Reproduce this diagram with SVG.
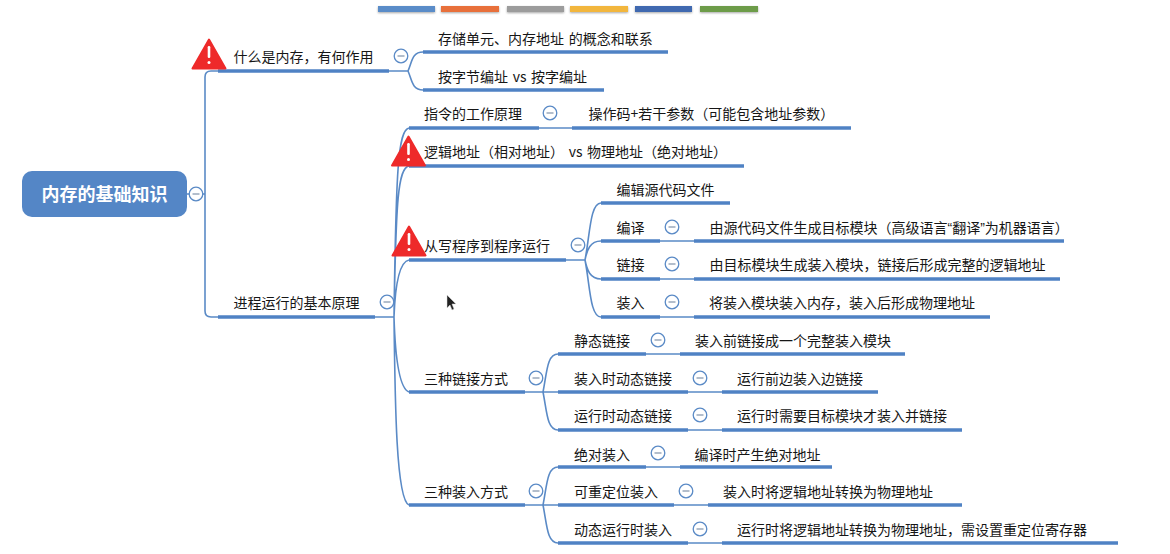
<svg xmlns="http://www.w3.org/2000/svg" width="1170" height="554" viewBox="0 0 1170 554">
<style>
text{font-family:"Noto Sans CJK SC","Liberation Sans",sans-serif;font-size:14px;fill:#161616;word-spacing:1.5px}
.root{font-size:18px;font-weight:700;fill:#fff;text-anchor:middle}
.q{font-family:"Liberation Sans",sans-serif}
.u{stroke:#4f82c4;stroke-width:3.6;fill:none}
.c{stroke:#5a8ac6;stroke-width:1.6;fill:none}
.t circle{fill:#fff;stroke:#5a8ac6;stroke-width:1.3}
.t path{stroke:#8a9bb0;stroke-width:1.3;fill:none}
.tri{fill:#ee2a2a;stroke:#ee2a2a;stroke-width:2;stroke-linejoin:round}
.bang{fill:#fff}
</style>
<defs>
<g id="toggle" class="t"><circle r="6.8"/><path d="M-3.5 0H3.5"/></g>
<g id="warn"><path class="tri" d="M0-14.500L16.500 14.500H-16.500Z"/><rect class="bang" x="-1.300" y="-8" width="2.600" height="12" rx="1.200"/><circle class="bang" cx="0" cy="8.500" r="1.500"/></g>
<filter id="sh" x="-10%" y="-50%" width="120%" height="250%"><feDropShadow dx="0" dy="1" stdDeviation="1.200" flood-color="#000" flood-opacity=".35"/></filter>
</defs>
<rect width="1170" height="554" fill="#fff"/>
<g id="palette" filter="url(#sh)">
<rect x="378" y="6" width="57" height="6" fill="#5a8cc8"/>
<rect x="441" y="6" width="58" height="6" fill="#e8703a"/>
<rect x="507" y="6" width="57" height="6" fill="#9c9c9c"/>
<rect x="570" y="6" width="58" height="6" fill="#f2b63c"/>
<rect x="635" y="6" width="57" height="6" fill="#3f69b0"/>
<rect x="700" y="6" width="58" height="6" fill="#6d9c4a"/>
</g>
<g id="connectors" class="c">
<path class="c" d="M187 194H205M218 71H211Q205 71 205 77V311Q205 317 211 317H218"/>
<path class="c" d="M389 71H408M423 52C412 52 412 62 408 71C412 80 412 90 423 90"/>
<path class="c" d="M375 317H394M409 128C398 130 396 170 394 317M409 166C398 168 396 200 394 317M409 260C398 262 395 290 394 317M409 392C398 388 395 350 394 317M409 505C396 500 395 400 394 317"/>
<path class="c" d="M539 128H572"/>
<path class="c" d="M566 260H585M601 203C590 203 590 235 585 260M601 241C590 241 587 250 585 260M601 279C590 279 587 270 585 260M601 317C590 317 590 285 585 260"/>
<path class="c" d="M660 241H694M660 279H694M660 317H694"/>
<path class="c" d="M525 392H543M558 354C547 354 547 372 543 392M558 430C547 430 547 412 543 392M543 392H558"/>
<path class="c" d="M646 354H680M688 392H722M688 430H722"/>
<path class="c" d="M525 505H543M558 467C547 467 547 485 543 505M558 543C547 543 547 525 543 505M543 505H558"/>
<path class="c" d="M646 467H680M674 505H708M688 543H722"/>
</g>
<g id="root"><rect x="22" y="171" width="165" height="46" rx="10" fill="#5486c6"/><text class="root" x="104.500" y="201">内存的基础知识</text><use href="#toggle" x="196" y="194"/></g>
<g id="n1"><path class="u" d="M218 71H389"/><text x="233.500" y="62">什么是内存，有何作用</text><use href="#warn" x="209" y="54"/><use href="#toggle" x="401" y="56"/></g>
<g id="n1a"><path class="u" d="M423 52H668"/><text x="438" y="44">存储单元、内存地址 的概念和联系</text></g>
<g id="n1b"><path class="u" d="M423 90H604"/><text x="438" y="82">按字节编址 vs 按字编址</text></g>
<g id="n2"><path class="u" d="M218 317H375"/><text x="233.500" y="308">进程运行的基本原理</text><use href="#toggle" x="387" y="302"/></g>
<g id="n3"><path class="u" d="M409 128H539"/><text x="424" y="119">指令的工作原理</text><use href="#toggle" x="550" y="113"/></g>
<g id="n3a"><path class="u" d="M572 128H851"/><text x="588.500" y="119">操作码+若干参数（可能包含地址参数）</text></g>
<g id="n4"><path class="u" d="M409 166H744"/><text x="424" y="157">逻辑地址（相对地址） vs 物理地址（绝对地址）</text><use href="#warn" x="408.500" y="151"/></g>
<g id="n5"><path class="u" d="M409 260H566"/><text x="424" y="251">从写程序到程序运行</text><use href="#warn" x="409" y="241"/><use href="#toggle" x="578" y="245"/></g>
<g id="n5a"><path class="u" d="M601 203H730"/><text x="616.500" y="195">编辑源代码文件</text></g>
<g id="n5b"><path class="u" d="M601 241H660"/><text x="616.500" y="233">编译</text><use href="#toggle" x="672" y="227"/></g>
<g id="n5b1"><path class="u" d="M694 241H1064"/><text x="709.500" y="233">由源代码文件生成目标模块（高级语言<tspan class="q">“</tspan>翻译<tspan class="q">”</tspan>为机器语言）</text></g>
<g id="n5c"><path class="u" d="M601 279H660"/><text x="616.500" y="270">链接</text><use href="#toggle" x="672" y="264"/></g>
<g id="n5c1"><path class="u" d="M694 279H1060"/><text x="709.500" y="270">由目标模块生成装入模块，链接后形成完整的逻辑地址</text></g>
<g id="n5d"><path class="u" d="M601 317H660"/><text x="616.500" y="308">装入</text><use href="#toggle" x="672" y="302"/></g>
<g id="n5d1"><path class="u" d="M694 317H990"/><text x="709" y="308">将装入模块装入内存，装入后形成物理地址</text></g>
<g id="n6"><path class="u" d="M409 392H525"/><text x="424" y="384">三种链接方式</text><use href="#toggle" x="536" y="378"/></g>
<g id="n6a"><path class="u" d="M558 354H646"/><text x="574" y="346">静态链接</text><use href="#toggle" x="658" y="340"/></g>
<g id="n6a1"><path class="u" d="M680 354H905"/><text x="695" y="346">装入前链接成一个完整装入模块</text></g>
<g id="n6b"><path class="u" d="M558 392H688"/><text x="574" y="384">装入时动态链接</text><use href="#toggle" x="700" y="378"/></g>
<g id="n6b1"><path class="u" d="M722 392H878"/><text x="737" y="384">运行前边装入边链接</text></g>
<g id="n6c"><path class="u" d="M558 430H688"/><text x="574" y="421">运行时动态链接</text><use href="#toggle" x="700" y="415"/></g>
<g id="n6c1"><path class="u" d="M722 430H962"/><text x="737" y="421">运行时需要目标模块才装入并链接</text></g>
<g id="n7"><path class="u" d="M409 505H525"/><text x="424" y="497">三种装入方式</text><use href="#toggle" x="536" y="491"/></g>
<g id="n7a"><path class="u" d="M558 467H646"/><text x="574" y="460">绝对装入</text><use href="#toggle" x="658" y="453"/></g>
<g id="n7a1"><path class="u" d="M680 467H832"/><text x="694.500" y="460">编译时产生绝对地址</text></g>
<g id="n7b"><path class="u" d="M558 505H674"/><text x="574" y="497">可重定位装入</text><use href="#toggle" x="686" y="491"/></g>
<g id="n7b1"><path class="u" d="M708 505H962"/><text x="723" y="497">装入时将逻辑地址转换为物理地址</text></g>
<g id="n7c"><path class="u" d="M558 543H688"/><text x="574" y="535">动态运行时装入</text><use href="#toggle" x="700" y="529"/></g>
<g id="n7c1"><path class="u" d="M722 543H1118"/><text x="737" y="535">运行时将逻辑地址转换为物理地址，需设置重定位寄存器</text></g>
<path id="cursor" d="M447 295V308L450 305L452 310L454 309L452 304H456Z" fill="#222" stroke="#ddd" stroke-width=".5"/>
</svg>
